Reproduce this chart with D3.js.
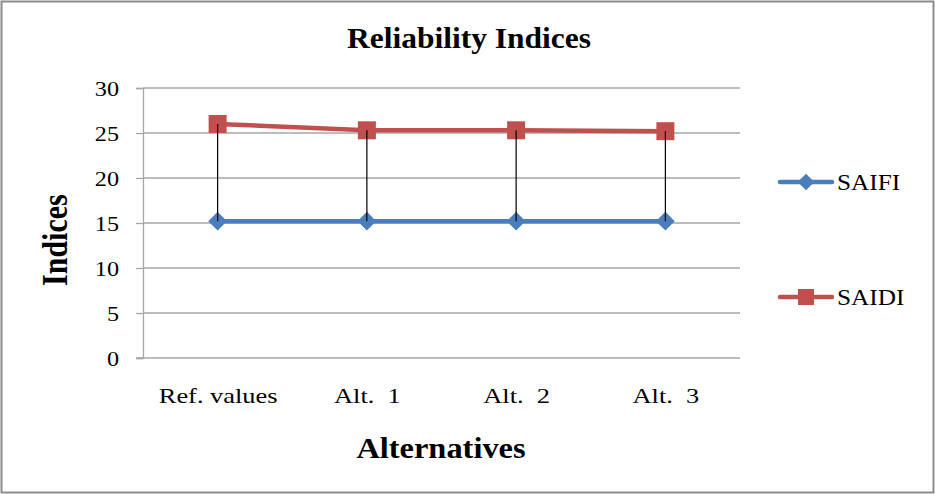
<!DOCTYPE html>
<html>
<head>
<meta charset="utf-8">
<script src="https://cdn.jsdelivr.net/npm/d3@7"></script>
<style>
  html, body { margin: 0; padding: 0; background: #fff; }
  svg { display: block; }
  text { white-space: pre; }
</style>
</head>
<body>
<svg id="chart" width="935" height="494"></svg>
<script>
// Reliability indices per alternative
const categories = ["Ref. values", "Alt.  1", "Alt.  2", "Alt.  3"];
const saifi = [15.2, 15.2, 15.2, 15.2];
const saidi = [26.0, 25.3, 25.3, 25.2];
const yTicks = [0, 5, 10, 15, 20, 25, 30];
const seriesNames = ["SAIFI", "SAIDI"];

const W = 935, H = 494;
const margin = { left: 143, right: 195, top: 88, bottom: 136 };
const svg = d3.select("#chart");
const font = "'Liberation Serif', 'Times New Roman', serif";

// chart border
svg.append("rect")
  .attr("x", 1.5).attr("y", 1.5)
  .attr("width", W - 3).attr("height", H - 3)
  .attr("fill", "#fff").attr("stroke", "#8c8c8c").attr("stroke-width", 2);

const x = d3.scalePoint()
  .domain(categories)
  .range([margin.left, W - margin.right])
  .padding(0.5);
const y = d3.scaleLinear().domain([0, 30]).range([H - margin.bottom, margin.top]);

// widen a text element horizontally around its own anchor point
function widen(sel, k) {
  sel.each(function () {
    const t = d3.select(this);
    const tx = +t.attr("x") || 0;
    t.attr("transform", `translate(${tx},0) scale(${k},1) translate(${-tx},0)`);
  });
}

// horizontal gridlines
svg.append("g").selectAll("line").data(yTicks.filter(d => d > 0)).join("line")
  .attr("x1", margin.left).attr("x2", W - margin.right)
  .attr("y1", d => y(d)).attr("y2", d => y(d))
  .attr("stroke", "#a6a6a6").attr("stroke-width", 1.3);

// y axis
const yAxis = d3.axisLeft(y).tickValues(yTicks).tickSize(7).tickPadding(17);
const gy = svg.append("g").attr("transform", `translate(${margin.left},0)`).call(yAxis);
gy.select(".domain").attr("stroke", "#a6a6a6").attr("stroke-width", 1.3);
gy.selectAll(".tick line").attr("stroke", "#a6a6a6").attr("stroke-width", 1.3);
gy.selectAll(".tick text")
  .attr("font-family", font).attr("font-size", 22).attr("fill", "#000")
  .call(widen, 1.1);

// x axis
const xAxis = d3.axisBottom(x).tickSize(0).tickPadding(29);
const gx = svg.append("g").attr("transform", `translate(0,${y(0)})`).call(xAxis);
gx.select(".domain").attr("d", `M${margin.left - 7},0H${W - margin.right}`)
  .attr("stroke", "#a6a6a6").attr("stroke-width", 1.3);
gx.selectAll(".tick text")
  .attr("font-family", font).attr("font-size", 22).attr("fill", "#000")
  .call(widen, 1.2);

const colors = { SAIFI: "#4a7ebb", SAIDI: "#c0504d" };
const line = d3.line().x((d, i) => x(categories[i])).y(d => y(d));

function drawSeries(values, name) {
  svg.append("path").datum(values)
    .attr("d", line).attr("fill", "none")
    .attr("stroke", colors[name]).attr("stroke-width", 4.5)
    .attr("stroke-linejoin", "round");
}
function marker(g, cx, cy, name, size) {
  if (name === "SAIFI") {
    const s = size * 0.52;
    g.append("path")
      .attr("d", `M${cx},${cy - s}L${cx + s},${cy}L${cx},${cy + s}L${cx - s},${cy}Z`)
      .attr("fill", colors[name]);
  } else {
    const s = size / 2;
    g.append("rect").attr("x", cx - s).attr("y", cy - s)
      .attr("width", 2 * s).attr("height", 2 * s)
      .attr("fill", colors[name]);
  }
}

drawSeries(saifi, "SAIFI");
drawSeries(saidi, "SAIDI");
const mg = svg.append("g");
saifi.forEach((v, i) => marker(mg, x(categories[i]), y(v), "SAIFI", 18));
saidi.forEach((v, i) => marker(mg, x(categories[i]), y(v), "SAIDI", 18));

// high-low lines joining the two series
svg.append("g").selectAll("line").data(categories).join("line")
  .attr("x1", d => x(d)).attr("x2", d => x(d))
  .attr("y1", (d, i) => y(saidi[i])).attr("y2", (d, i) => y(saifi[i]))
  .attr("stroke", "#000").attr("stroke-width", 1.2);

// legend
const legendY = [182, 297];
seriesNames.forEach((name, i) => {
  const g = svg.append("g");
  g.append("line").attr("x1", 780).attr("x2", 832)
    .attr("y1", legendY[i]).attr("y2", legendY[i])
    .attr("stroke", colors[name]).attr("stroke-width", 4.5).attr("stroke-linecap", "round");
  marker(g, 806, legendY[i], name, 16);
  g.append("text").attr("x", 837).attr("y", legendY[i] + 8)
    .attr("font-family", font).attr("font-size", 23).attr("fill", "#000")
    .text(name)
    .call(widen, 1.1);
});

// titles
svg.append("text").attr("x", 469).attr("y", 48)
  .attr("text-anchor", "middle").attr("font-family", font)
  .attr("font-size", 30).attr("font-weight", "bold")
  .text("Reliability Indices")
  .call(widen, 1.05);
svg.append("text").attr("x", 441).attr("y", 458)
  .attr("text-anchor", "middle").attr("font-family", font)
  .attr("font-size", 30).attr("font-weight", "bold")
  .text("Alternatives")
  .call(widen, 1.08);
svg.append("text")
  .attr("transform", `translate(67,${y(13.1)}) rotate(-90) scale(1,1.2)`)
  .attr("text-anchor", "middle").attr("font-family", font)
  .attr("font-size", 30).attr("font-weight", "bold")
  .text("Indices");
</script>
</body>
</html>
